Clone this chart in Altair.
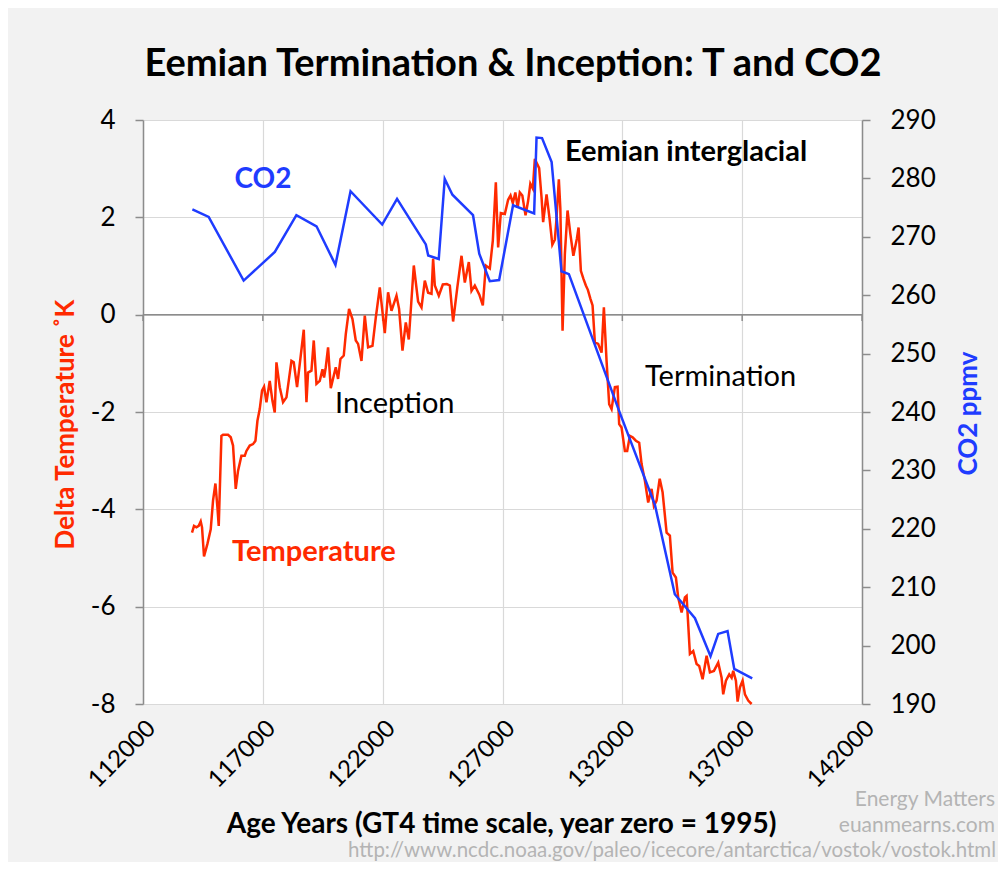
import altair as alt
import pandas as pd

# ---------------- data ----------------
T_YEARS = [
    114045, 114129, 114229, 114325, 114408, 114463, 114546, 114688, 114826, 114922,
    115022, 115105, 115160, 115272, 115339, 115548, 115661, 115757, 115869, 115965,
    116107, 116245, 116316, 116454, 116591, 116692, 116775, 116871, 116967, 117051,
    117151, 117288, 117401, 117497, 117568, 117706, 117844, 117986, 118194, 118290,
    118428, 118708, 118820, 118887, 119029, 119125, 119238, 119376, 119488, 119555,
    119626, 119722, 119835, 120043, 120139, 120239, 120377, 120461, 120598, 120740,
    120878, 120974, 121116, 121254, 121392, 121575, 121713, 121880, 122089, 122226,
    122368, 122577, 122685, 122827, 122965, 123090, 123299, 123479, 123620, 123758,
    123896, 124038, 124105, 124176, 124343, 124510, 124676, 124802, 124939, 125115,
    125290, 125428, 125595, 125707, 125845, 126033, 126179, 126304, 126471, 126596,
    126722, 126818, 126930, 127097, 127235, 127335, 127431, 127536, 127632, 127723,
    127828, 127961, 128070, 128162, 128266, 128350, 128433, 128529, 128629, 128696,
    128838, 128963, 129080, 129184, 129247, 129351, 129414, 129506, 129602, 129714,
    129831, 129957, 130103, 130174, 130270, 130374, 130478, 130562, 130666, 130758,
    130854, 130992, 131134, 131230, 131342, 131451, 131551, 131689, 131801, 131868,
    131968, 132106, 132202, 132315, 132428, 132565, 132703, 132803, 132941, 133079,
    133221, 133317, 133429, 133559, 133680, 133847, 133984, 134097, 134235, 134331,
    134473, 134611, 134681, 134819, 134957, 135099, 135207, 135349, 135516, 135654,
    135821, 136001, 136142, 136209, 136322, 136460, 136560, 136627, 136739, 136810,
    136906, 137019, 137115, 137253, 137395,
]
T_VALUES = [
    -4.48, -4.34, -4.37, -4.34, -4.25, -4.37, -4.97, -4.71, -4.41, -3.82,
    -3.47, -3.96, -4.34, -2.49, -2.47, -2.47, -2.52, -2.69, -3.58, -3.21,
    -2.90, -2.90, -2.80, -2.69, -2.66, -2.59, -2.18, -1.94, -1.56, -1.48,
    -1.80, -1.36, -1.77, -2.01, -0.98, -1.49, -1.80, -1.70, -0.95, -0.98,
    -1.49, -0.31, -1.80, -1.19, -1.15, -0.53, -1.42, -1.36, -1.12, -1.29,
    -1.08, -0.67, -1.51, -1.08, -1.32, -0.91, -0.84, -0.40, 0.12, -0.09,
    -0.53, -0.60, -0.95, -0.02, -0.67, -0.64, -0.06, 0.56, -0.38, 0.46,
    0.08, 0.39, 0.12, -0.74, -0.16, -0.51, 1.01, 0.27, 0.15, 0.70,
    0.45, 0.43, 1.15, 0.60, 0.39, 0.62, 0.63, 0.60, -0.14, 0.56,
    1.21, 0.66, 1.08, 0.49, 0.60, 0.41, 0.19, 1.01, 0.95, 1.52,
    2.72, 1.38, 2.09, 2.07, 2.36, 2.45, 2.29, 2.51, 2.20, 2.51,
    2.45, 2.04, 2.34, 2.69, 2.59, 3.20, 3.11, 3.01, 2.41, 1.90,
    2.47, 1.98, 1.44, 1.54, 1.93, 2.78, 2.18, -0.33, 1.25, 2.14,
    1.66, 1.21, 1.56, 1.79, 0.90, 0.74, 0.60, 0.51, 0.33, 0.19,
    -0.57, -0.60, -0.78, 0.15, -0.95, -1.84, -1.94, -1.49, -1.48, -2.25,
    -2.32, -2.80, -2.80, -2.49, -2.52, -2.59, -2.63, -3.07, -3.41, -3.86,
    -3.58, -3.93, -3.82, -3.37, -3.65, -4.48, -4.54, -5.30, -5.40, -5.81,
    -6.12, -5.81, -5.78, -6.97, -6.91, -7.18, -7.22, -7.49, -7.01, -7.35,
    -7.32, -7.15, -7.46, -7.80, -7.52, -7.39, -7.46, -7.32, -7.52, -7.95,
    -7.66, -7.52, -7.80, -7.93, -8.00,
]
CO2_YEARS = [
    114060, 114740, 116200, 117500, 118400, 119240, 120030, 120660, 121980, 122600,
    123800, 123900, 124340, 124590, 124910, 125770, 126030, 126470, 126860, 127440,
    128320, 128420, 128650, 129050, 129460, 129770, 131900, 133360, 134190, 135030,
    135680, 136000, 136390, 136670, 137420,
]
CO2_VALUES = [
    274.7, 273.4, 262.5, 267.4, 273.7, 271.8, 265.2, 277.8, 272.1, 276.5,
    268.7, 266.8, 266.2, 279.9, 277.2, 273.7, 267.1, 262.4, 262.6, 275.4,
    274.0, 287.0, 286.9, 282.8, 264.1, 263.6, 239.8, 224.1, 208.8, 204.7,
    198.2, 202.0, 202.5, 196.0, 194.4,
]
X_TICKS = [112000, 117000, 122000, 127000, 132000, 137000, 142000]
T_TICKS = [-8, -6, -4, -2, 0, 2, 4]
CO2_TICKS = [190, 200, 210, 220, 230, 240, 250, 260, 270, 280, 290]

TITLE = "Eemian Termination & Inception: T and CO2"
X_TITLE = "Age Years (GT4 time scale, year zero = 1995)"
T_TITLE = "Delta Temperature ˚K"
CO2_TITLE = "CO2 ppmv"
URL = "http://www.ncdc.noaa.gov/paleo/icecore/antarctica/vostok/vostok.html"

# ---------------- styling ----------------
RED = "#ff2a00"
BLUE = "#1f3cff"
AXIS_GRAY = "#8c8c8c"
GRID = "#d9d9d9"
WM = "#b4b4b4"
FONT = "Lato"
NARROW = "Liberation Sans Narrow, Lato"
W, H = 719, 584
PLAIN = "'' + datum.value"  # plain hyphen for negatives, no thousands separator

temp_df = pd.DataFrame({"year": T_YEARS, "temp": T_VALUES})
co2_df = pd.DataFrame({"year": CO2_YEARS, "co2": CO2_VALUES})
tick_df = pd.DataFrame({"year": X_TICKS})
one = pd.DataFrame({"k": [0]})

x_scale = alt.Scale(domain=[112000, 142000], nice=False, zero=False)
x_axis = alt.Axis(
    values=X_TICKS, labelExpr=PLAIN, labelAngle=315, labelAlign="right",
    labelBaseline="top", labelFontSize=24, labelFont=FONT, labelColor="black",
    labelPadding=12, labelFlush=False, labelOverlap=False, labelBound=False,
    ticks=False, domain=False, grid=True, gridColor=GRID, gridWidth=1.2,
    title=X_TITLE, titleFont=FONT, titleFontSize=28, titleFontWeight="bold",
    titleColor="black", titleX=358, titleY=120, titleAlign="center",
    titleBaseline="middle",
)
yt_scale = alt.Scale(domain=[-8, 4], nice=False, zero=False)
yt_axis = alt.Axis(
    orient="left", values=T_TICKS, labelExpr=PLAIN, labelFontSize=26,
    labelFont=FONT, labelColor="black", labelPadding=20, tickSize=8,
    tickColor=AXIS_GRAY, tickWidth=1.5, domainColor=AXIS_GRAY, domainWidth=1.5,
    grid=True, gridColor=GRID, gridWidth=1.2, title=T_TITLE, titleFont=FONT,
    titleFontSize=26, titleFontWeight="bold", titleColor=RED, titleAngle=270,
    titleX=-78, titleY=304, titleAlign="center", titleBaseline="middle",
)
yc_scale = alt.Scale(domain=[190, 290], nice=False, zero=False)
yc_axis = alt.Axis(
    orient="right", values=CO2_TICKS, labelExpr=PLAIN, labelFontSize=26,
    labelFont=FONT, labelColor="black", labelPadding=20, tickSize=8,
    tickColor=AXIS_GRAY, tickWidth=1.5, domainColor=AXIS_GRAY, domainWidth=1.5,
    grid=False, title=CO2_TITLE, titleFont=FONT, titleFontSize=26,
    titleFontWeight="bold", titleColor=BLUE, titleAngle=270, titleX=106,
    titleY=293, titleAlign="center", titleBaseline="middle",
)

X = alt.X("year:Q", scale=x_scale, axis=x_axis)

zero_line = alt.Chart(one).mark_rule(color=AXIS_GRAY, strokeWidth=1.5).encode(
    y=alt.YDatum(0, scale=yt_scale, axis=yt_axis)
)
zero_ticks = alt.Chart(tick_df).mark_rule(color=AXIS_GRAY, strokeWidth=1.5).encode(
    x=X,
    y=alt.YDatum(0, scale=yt_scale, axis=yt_axis),
    y2=alt.Y2Datum(-0.13),
)
temp_line = alt.Chart(temp_df).mark_line(color=RED, strokeWidth=2.5).encode(
    x=X, y=alt.Y("temp:Q", scale=yt_scale, axis=yt_axis)
)


def label(text, x, y, size, color="black", weight="normal", align="left", font=FONT):
    return alt.Chart(one).mark_text(
        text=text, font=font, fontSize=size, fontWeight=weight, color=color,
        align=align, baseline="middle",
    ).encode(x=alt.value(x), y=alt.value(y))


texts = [
    label(TITLE, 370, -55, 38, weight="bold", align="center"),
    label("CO2", 120, 60, 28, color=BLUE, weight="bold", align="center"),
    label("Eemian interglacial", 422, 32, 29, weight="bold"),
    label("Inception", 192, 284, 29),
    label("Termination", 502, 257, 29),
    label("Temperature", 89, 432, 29, color=RED, weight="bold"),
    label("Energy Matters", 852, 680, 21, color=WM, align="right", font=NARROW),
    label("euanmearns.com", 852, 706, 21, color=WM, align="right", font=NARROW),
    label(URL, 853, 731, 20.5, color=WM, align="right", font=NARROW),
]

temp_group = alt.layer(zero_line, zero_ticks, temp_line, *texts)

co2_line = alt.Chart(co2_df).mark_line(color=BLUE, strokeWidth=2.5).encode(
    x=X, y=alt.Y("co2:Q", scale=yc_scale, axis=yc_axis)
)

chart = (
    alt.layer(temp_group, co2_line)
    .resolve_scale(y="independent")
    .properties(
        width=W, height=H, background="#f2f2f2",
        padding={"left": 135, "top": 112, "right": 136, "bottom": 158},
        autosize=alt.AutoSizeParams(type="none"),
    )
    .configure_view(fill="white", stroke=None)
)

chart.save("out.html", embed_options={"renderer": "svg", "actions": False})
